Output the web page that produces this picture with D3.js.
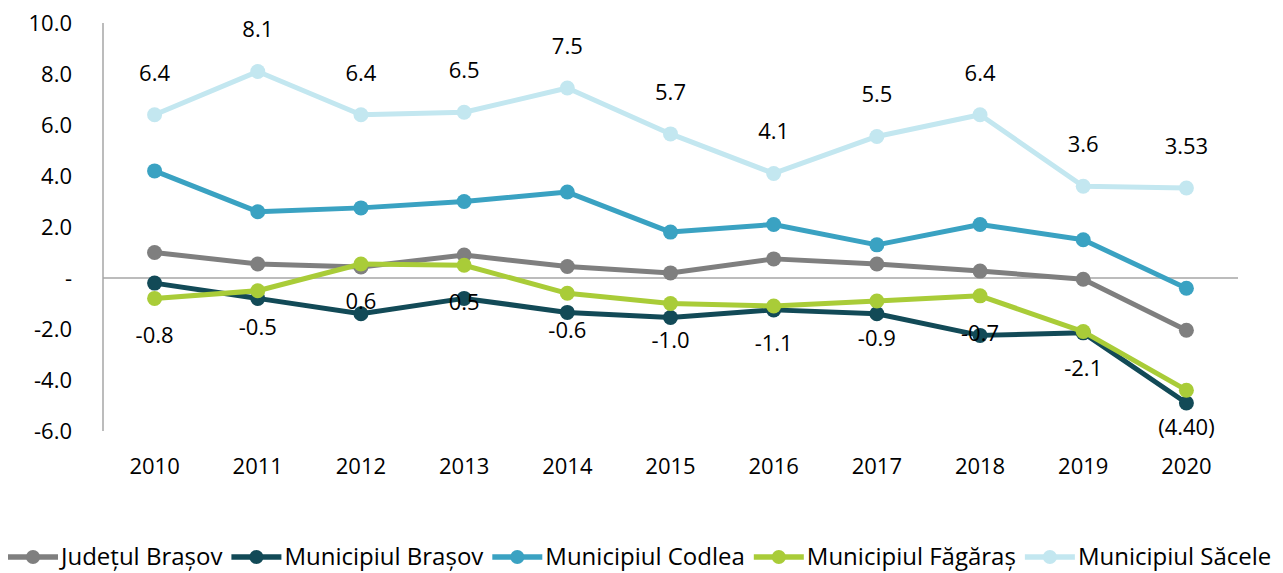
<!DOCTYPE html>
<html>
<head>
<meta charset="utf-8">
<script src="https://cdn.jsdelivr.net/npm/d3@7"></script>
<style>
  body { margin: 0; background: #fff; }
  text { font-family: 'Open Sans', sans-serif; fill: #000; }
</style>
</head>
<body>
<div id="chart"></div>
<script>
const years = ['2010', '2011', '2012', '2013', '2014', '2015', '2016', '2017', '2018', '2019', '2020']
const yTicks = [-6, -4, -2, 0, 2, 4, 6, 8, 10]

const judetulBrasov = [1.0, 0.55, 0.43, 0.9, 0.45, 0.2, 0.75, 0.55, 0.27, -0.05, -2.05]
const municipiulBrasov = [-0.2, -0.8, -1.4, -0.8, -1.35, -1.55, -1.25, -1.4, -2.25, -2.15, -4.9]
const municipiulCodlea = [4.2, 2.6, 2.75, 3.0, 3.37, 1.8, 2.1, 1.3, 2.1, 1.5, -0.4]
const municipiulFagaras = [-0.8, -0.5, 0.55, 0.5, -0.6, -1.0, -1.1, -0.9, -0.7, -2.1, -4.4]
const municipiulSacele = [6.4, 8.1, 6.4, 6.5, 7.45, 5.65, 4.1, 5.55, 6.4, 3.6, 3.53]

const fagarasLabels = ['-0.8', '-0.5', '0.6', '0.5', '-0.6', '-1.0', '-1.1', '-0.9', '-0.7', '-2.1', '(4.40)']
const saceleLabels = ['6.4', '8.1', '6.4', '6.5', '7.5', '5.7', '4.1', '5.5', '6.4', '3.6', '3.53']

const series = [
  {name: 'Județul Brașov', values: judetulBrasov, color: '#7f7f7f'},
  {name: 'Municipiul Brașov', values: municipiulBrasov, color: '#124a57'},
  {name: 'Municipiul Codlea', values: municipiulCodlea, color: '#3aa2c2'},
  {name: 'Municipiul Făgăraș', values: municipiulFagaras, color: '#a9cc38', labels: fagarasLabels, labelDy: 37},
  {name: 'Municipiul Săcele', values: municipiulSacele, color: '#c3e7f0', labels: saceleLabels, labelDy: -42}
]

const W = 1283, H = 573
const x = d3.scaleBand().domain(years).range([103, 1238])
const y = d3.scaleLinear().domain([-6, 10]).range([431, 23])
const cx = d => x(d) + x.bandwidth() / 2

const svg = d3.select('#chart').append('svg')
  .attr('width', W)
  .attr('height', H)

// axes
svg.append('line')
  .attr('x1', 103).attr('x2', 103)
  .attr('y1', y(10)).attr('y2', y(-6))
  .attr('stroke', '#a6a6a6').attr('stroke-width', 1.5)
svg.append('line')
  .attr('x1', 103).attr('x2', 1238)
  .attr('y1', y(0)).attr('y2', y(0))
  .attr('stroke', '#a6a6a6').attr('stroke-width', 1.5)

svg.append('g').selectAll('text')
  .data(yTicks)
  .enter().append('text')
    .attr('x', 72)
    .attr('y', d => y(d))
    .attr('dy', '0.35em')
    .attr('text-anchor', 'end')
    .attr('font-size', 22)
    .text(d => d === 0 ? '-' : d.toFixed(1))

svg.append('g').selectAll('text')
  .data(years)
  .enter().append('text')
    .attr('x', d => cx(d))
    .attr('y', 466)
    .attr('dy', '0.35em')
    .attr('text-anchor', 'middle')
    .attr('font-size', 22)
    .text(d => d)

const line = d3.line()
  .x((d, i) => cx(years[i]))
  .y(d => y(d))

series.forEach(s => {
  const g = svg.append('g')
  g.append('path')
    .attr('d', line(s.values))
    .attr('fill', 'none')
    .attr('stroke', s.color)
    .attr('stroke-width', 5)
    .attr('stroke-linejoin', 'round')
  g.selectAll('circle')
    .data(s.values)
    .enter().append('circle')
      .attr('cx', (d, i) => cx(years[i]))
      .attr('cy', d => y(d))
      .attr('r', 7.5)
      .attr('fill', s.color)
})

series.filter(s => s.labels).forEach(s => {
  svg.append('g').selectAll('text')
    .data(s.labels)
    .enter().append('text')
      .attr('x', (d, i) => cx(years[i]))
      .attr('y', (d, i) => y(s.values[i]) + s.labelDy)
      .attr('dy', '0.35em')
      .attr('text-anchor', 'middle')
      .attr('font-size', 22)
      .text(d => d)
})

// legend
const legend = svg.append('g').attr('transform', 'translate(0, 557)')
let lx = 8
series.forEach(s => {
  const item = legend.append('g').attr('transform', `translate(${lx}, 0)`)
  item.append('line')
    .attr('x1', 0).attr('x2', 50)
    .attr('stroke', s.color).attr('stroke-width', 5.5)
  item.append('circle')
    .attr('cx', 25).attr('r', 7)
    .attr('fill', s.color)
  const t = item.append('text')
    .attr('x', 53)
    .attr('dy', '0.35em')
    .attr('font-size', 24)
    .text(s.name)
  lx += 53 + t.node().getComputedTextLength() + 9
})
</script>
</body>
</html>
